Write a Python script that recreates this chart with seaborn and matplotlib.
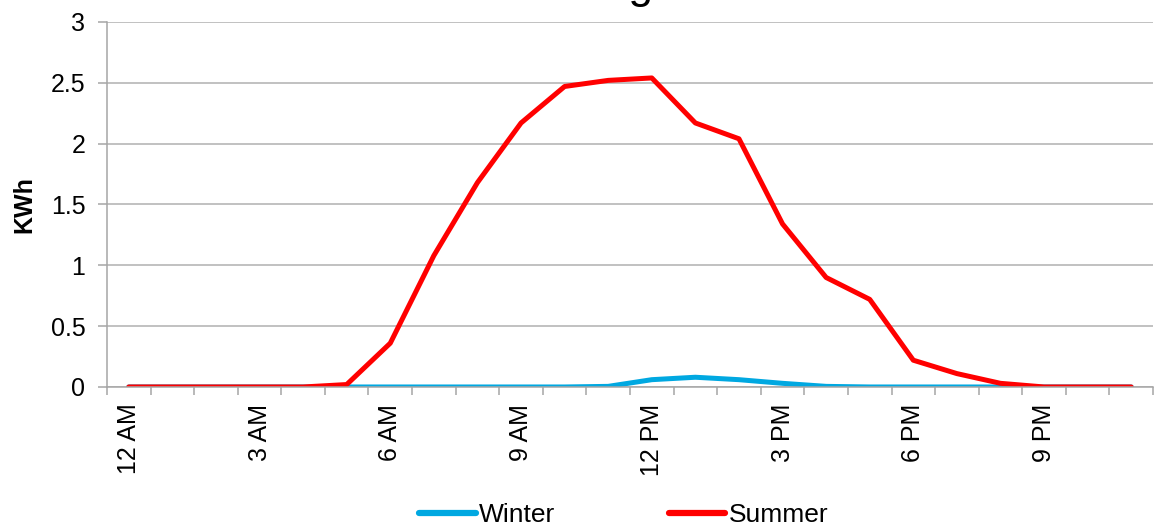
import matplotlib
matplotlib.use("Agg")
import matplotlib.pyplot as plt
import seaborn as sns
import pandas as pd
import numpy as np

hours = list(range(24))
hour_labels = ["12 AM", "3 AM", "6 AM", "9 AM", "12 PM", "3 PM", "6 PM", "9 PM"]
winter = [0, 0, 0, 0, 0, 0, 0, 0, 0, 0, 0, 0.005, 0.06, 0.08, 0.06, 0.03,
          0.005, 0, 0, 0, 0, 0, 0, 0]
summer = [0, 0, 0, 0, 0, 0.02, 0.36, 1.08, 1.68, 2.17, 2.47, 2.52, 2.54, 2.17,
          2.04, 1.34, 0.90, 0.72, 0.22, 0.11, 0.03, 0.0, 0, 0]
y_ticks = [0, 0.5, 1, 1.5, 2, 2.5, 3]
y_tick_labels = ["0", "0.5", "1", "1.5", "2", "2.5", "3"]
series_names = ["Winter", "Summer"]
colors = {"Winter": "#00A8E1", "Summer": "#FF0000"}

df = pd.DataFrame({
    "hour": hours * 2,
    "kwh": winter + summer,
    "season": ["Winter"] * 24 + ["Summer"] * 24,
})

sns.set_style("white")
plt.rcParams["font.family"] = ["Liberation Sans", "DejaVu Sans"]
plt.rcParams["text.color"] = "black"
plt.rcParams["axes.labelcolor"] = "black"
plt.rcParams["xtick.labelcolor"] = "black"
plt.rcParams["ytick.labelcolor"] = "black"

fig = plt.figure(figsize=(11.6, 5.26), dpi=100)
ax = fig.add_axes([0.0922, 0.2643, 0.9018, 0.6939])

sns.lineplot(data=df, x="hour", y="kwh", hue="season", hue_order=series_names,
             palette=colors, linewidth=3.6, ax=ax, legend=False,
             solid_capstyle="round", solid_joinstyle="round")

ax.set_xlim(-0.5, 23.5)
ax.set_ylim(0, 3)
ax.set_yticks(y_ticks)
ax.set_yticklabels(y_tick_labels)
ax.yaxis.grid(True, color="#B0B0B0", linewidth=1.1)
ax.set_axisbelow(True)

# category boundaries carry the tick marks; labels sit at every third hour
ax.set_xticks(np.arange(-0.5, 24, 1))
ax.set_xticklabels([])
ax.set_xticks(np.arange(0, 24, 3), minor=True)
ax.set_xticklabels(hour_labels, minor=True, rotation=90, fontsize=18)
ax.tick_params(axis="x", which="major", length=6, width=1.1, color="#A6A6A6",
               direction="out", bottom=True)
ax.tick_params(axis="x", which="minor", length=0, pad=12, bottom=True,
               labelcolor="black")
ax.tick_params(axis="y", length=6.5, width=1.1, color="#A6A6A6",
               direction="out", labelsize=18, pad=9, left=True,
               labelcolor="black")

for side in ["top", "right"]:
    ax.spines[side].set_visible(False)
for side in ["left", "bottom"]:
    ax.spines[side].set_color("#A6A6A6")
    ax.spines[side].set_linewidth(1.1)

ax.set_xlabel("")
ax.set_ylabel("KWh", fontsize=18, fontweight="bold", labelpad=10,
              color="black")

# chart title sits above the top edge of the canvas
fig.text(0.443, 1.003, "Average", ha="left", va="baseline", fontsize=32,
         color="black")

handles = [plt.Line2D([], [], color=colors[n], linewidth=4.5,
                      solid_capstyle="round") for n in series_names]
leg = fig.legend(handles, series_names, loc="center",
                 bbox_to_anchor=(0.5375, 0.021), ncol=2, frameon=False,
                 fontsize=19, handlelength=2.15, handletextpad=0.12,
                 columnspacing=4.3, borderpad=0)
for t in leg.get_texts():
    t.set_color("black")

fig.savefig("out.png", dpi=100)
